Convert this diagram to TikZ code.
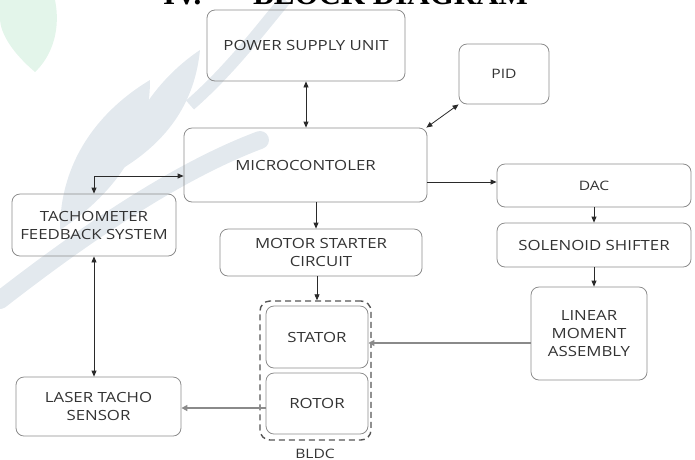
\documentclass[tikz,border=0pt]{standalone}
\usepackage{fontspec}
\setmainfont{Open Sans}[FakeStretch=1.2]
\newfontfamily\titlefont{Liberation Serif}
\usetikzlibrary{arrows.meta}
\definecolor{boxline}{HTML}{8C8C8C}
\definecolor{txt}{HTML}{333333}
\definecolor{arr}{HTML}{2A2A2A}
\definecolor{wm}{HTML}{E3E9EE}
\definecolor{wmgreen}{HTML}{E3F5EA}
\tikzset{
  blk/.style={draw=boxline, line width=0.8pt, rounded corners=8pt, align=center,
    text=txt, font=\fontsize{14}{18}\selectfont, inner sep=0pt},
  conn/.style={draw=arr, line width=0.8pt, -{Triangle[length=6pt,width=5pt]}},
  dconn/.style={draw=arr, line width=0.8pt, {Triangle[length=6pt,width=5pt]}-{Triangle[length=6pt,width=5pt]}},
  gconn/.style={draw=arr!55, line width=1.6pt, -{Triangle[length=6pt,width=6pt]}},
  bldcbox/.style={draw=arr!80, dashed, dash pattern=on 6pt off 4pt, line width=1.4pt, rounded corners=10pt, inner sep=0pt},
}
\begin{document}
\begin{tikzpicture}[x=1pt,y=-1pt]
\useasboundingbox (0,0) rectangle (695,459);
\clip (0,0) rectangle (695,459);
% faint watermark
\fill[wmgreen] (0,0) -- (55,0) .. controls (62,35) and (48,60) .. (35,72) .. controls (15,55) and (0,35) .. (0,18) -- cycle;
\draw[wm, line width=18pt, line cap=round] (0,300) .. controls (90,230) and (180,170) .. (260,140);
\draw[wm, line width=12pt] (190,105) .. controls (230,70) and (260,30) .. (285,0);
\fill[wm] (60,230) .. controls (60,160) and (100,110) .. (150,80) .. controls (150,140) and (120,190) .. (60,230) -- cycle;
\fill[wm] (120,170) .. controls (130,110) and (170,70) .. (200,50) .. controls (195,100) and (170,140) .. (120,170) -- cycle;
% title
\node[anchor=base west, inner sep=0pt, font=\titlefont\bfseries\fontsize{31}{31}\selectfont] (title1) at (163,4) {IV.};
\node[anchor=base west, inner sep=0pt, font=\titlefont\bfseries\fontsize{31}{31}\selectfont] (title2) at (253,4) {BLOCK DIAGRAM};
% blocks
\node[blk, minimum width=198, minimum height=71] (psu) at (306,45.5) {POWER SUPPLY UNIT};
\node[blk, minimum width=90, minimum height=60, font=\fontsize{13}{16}\selectfont] (pid) at (504,74) {PID};
\node[blk, minimum width=243, minimum height=74] (micro) at (305.5,165) {MICROCONTOLER};
\node[blk, minimum width=194, minimum height=43, font=\fontsize{13}{16}\selectfont] (dac) at (594,185.5) {DAC};
\node[blk, minimum width=194, minimum height=44] (sol) at (594,245) {SOLENOID SHIFTER};
\node[blk, minimum width=116, minimum height=93] (lin) at (589,333.5) {LINEAR\\MOMENT\\ASSEMBLY};
\node[blk, minimum width=164, minimum height=62] (tacho) at (94,225) {TACHOMETER\\FEEDBACK SYSTEM};
\node[blk, minimum width=202, minimum height=47] (motor) at (321,252.5) {MOTOR STARTER\\CIRCUIT};
\node[bldcbox, minimum width=111, minimum height=139] (bldc) at (315.5,370.5) {};
\node[blk, minimum width=102, minimum height=62] (stator) at (317,337) {STATOR};
\node[blk, minimum width=102, minimum height=61] (rotor) at (317,403.5) {ROTOR};
\node[blk, minimum width=165, minimum height=59] (laser) at (98.5,406.5) {LASER TACHO\\SENSOR};
\node[text=txt, font=\fontsize{13}{16}\selectfont, inner sep=0pt] (bldclbl) at (315,454) {BLDC};
% connectors
\draw[dconn] (psu.south) -- (psu.south |- micro.north);
\draw[dconn] (pid.south west) -- ([xshift=-1pt]micro.north east);
\coordinate (mleft) at ([yshift=-11pt]micro.west);
\draw[dconn] (mleft) -| (tacho.north);
\coordinate (mright) at ([yshift=-17pt]micro.east);
\draw[conn] (mright) -- (mright -| dac.west);
\draw[conn] (dac.south) -- (sol.north);
\draw[conn] (sol.south) -- (sol.south |- lin.north);
\coordinate (mbot) at ([xshift=10.5pt]micro.south);
\draw[conn] (mbot) -- (mbot |- motor.north);
\draw[conn] (stator.north |- motor.south) -- (stator.north |- bldc.north);
\draw[dconn] (tacho.south) -- (tacho.south |- laser.north);
\coordinate (lleft) at ([yshift=-9.5pt]lin.west);
\draw[gconn] (lleft) -- (lleft -| stator.east);
\coordinate (rleft) at ([yshift=-4.5pt]rotor.west);
\draw[gconn] (rleft) -- (rleft -| laser.east);
\end{tikzpicture}
\end{document}
